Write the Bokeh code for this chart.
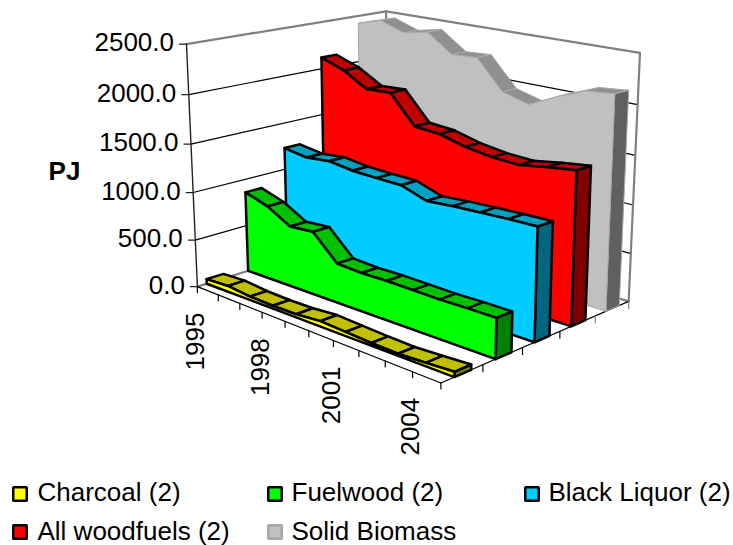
import numpy as np
from bokeh.plotting import figure
from bokeh.embed import file_html
from bokeh.resources import INLINE
from bokeh.core.properties import value
from bokeh.models import Range1d

# ---- data (PJ) ----
years = list(range(1995, 2006))
charcoal = [50, 62, 37, 30, 33, 55, 40, 27, 20, 33, 50]
fuelwood = [860, 780, 640, 660, 410, 395, 400, 395, 390, 395, 395]
black_liquor = [1230, 1190, 1215, 1180, 1170, 1165, 1075, 1095, 1105, 1115, 1120]
all_woodfuels = [2120, 2030, 1880, 1895, 1600, 1580, 1510, 1470, 1455, 1500, 1535]
solid_biomass = [2420, 2490, 2400, 2450, 2260, 2275, 1975, 1900, 2030, 2140, 2165]
value_ticks = [0.0, 500.0, 1000.0, 1500.0, 2000.0, 2500.0]
year_labels = [1995, 1998, 2001, 2004]
value_max = 2500.0
axis_title = "PJ"

# ---- camera calibration: (u along years, v in depth, w up) -> picture pixel ----
calibration = [
    (0, 0, 0, 197, 287), (0, 0, 1, 186, 44), (1, 0, 0, 440, 381),
    (1, 1, 0, 627, 300), (1, 1, 1, 640, 52), (0, 1, 1, 385, 11), (0, 1, 0, 388, 226),
    (.1, 0, 0, 217.7, 295.3), (.2, 0, 0, 239.3, 303.7), (.3, 0, 0, 261, 312),
    (.4, 0, 0, 283.3, 320.7), (.5, 0, 0, 307.3, 329.7), (.6, 0, 0, 333.7, 340),
    (.7, 0, 0, 358.3, 349.3), (.8, 0, 0, 385, 359.7), (.9, 0, 0, 413.7, 370.7),
    (0, 0, .2, 195, 239), (0, 0, .4, 192.8, 191), (0, 0, .6, 190.6, 143), (0, 0, .8, 188.3, 95),
    (1, .2, 0, 483.3, 365), (1, .4, 0, 522.3, 348), (1, .6, 0, 558.3, 331.7), (1, .8, 0, 595, 316.7),
]
A, b = [], []
for X, Y, Z, px, py in calibration:
    A.append([X, Y, Z, 1, 0, 0, 0, 0, -px * X, -px * Y, -px * Z]); b.append(px)
    A.append([0, 0, 0, 0, X, Y, Z, 1, -py * X, -py * Y, -py * Z]); b.append(py)
cam = np.append(np.linalg.lstsq(np.array(A, float), np.array(b, float), rcond=None)[0], 1.0).reshape(3, 4)


def proj(u, v, val):
    q = cam @ np.array([u, v, val / value_max, 1.0])
    return q[0] / q[2], q[1] / q[2]


W, H = 733, 545
p = figure(width=W, height=H, output_backend="svg", toolbar_location=None,
           x_range=Range1d(0, W), y_range=Range1d(H, 0), min_border=0,
           margin=(0, 0, 0, 0))
p.axis.visible = False
p.grid.visible = False
p.outline_line_color = None
p.background_fill_color = "white"
p.border_fill_color = "white"


def seg(a, b, color, width):
    p.line([a[0], b[0]], [a[1], b[1]], line_color=color, line_width=width, line_cap="round")


FRAME = "#808080"
# walls and gridlines
for t in value_ticks[1:-1]:
    seg(proj(0, 0, t), proj(0, 1, t), "black", 1.2)
    seg(proj(0, 1, t), proj(1, 1, t), "black", 1.2)
seg(proj(0, 0, 0), proj(0, 1, 0), FRAME, 2.2)
seg(proj(0, 1, 0), proj(1, 1, 0), FRAME, 2.2)
seg(proj(0, 1, 0), proj(0, 1, value_max), FRAME, 2.2)
seg(proj(0, 0, value_max), proj(0, 1, value_max), FRAME, 2.2)
seg(proj(0, 1, value_max), proj(1, 1, value_max), FRAME, 2.2)
seg(proj(1, 1, value_max), proj(1, 1, 0), FRAME, 2.2)

# axes
seg(proj(0, 0, 0), proj(0, 0, value_max), "#222222", 1.4)
seg(proj(0, 0, 0), proj(1, 0, 0), "black", 1.2)
seg(proj(1, 0, 0), proj(1, 1, 0), "black", 1.2)
label_font = value("Liberation Sans")
for t in value_ticks:
    x, y = proj(0, 0, t)
    seg((x - 7, y), (x, y), "#222222", 1.2)
    p.text([x - 12.5], [y - 2], text=[f"{t:.1f}"], text_font=label_font, text_font_size="26px",
           text_align="right", text_baseline="middle", text_color="black")
n = len(years)
for i, yr in enumerate(years):
    x, y = proj(i / (n - 1), 0, 0)
    seg((x, y), (x, y + 6), "black", 1.2)
    if yr in year_labels:
        p.text([x - 2.5], [y + 26], text=[str(yr)], angle=[np.pi / 2], text_font=label_font,
               text_font_size="26px", text_align="right", text_baseline="middle", text_color="black")
for k in range(1, 6):
    x, y = proj(1, k / 5, 0)
    seg((x, y), (x, y + 7), "#808080" if k > 3 else "black", 1.2)
p.text([64], [170], text=[axis_title], text_font=label_font, text_font_size="26px", text_font_style="bold",
       text_align="center", text_baseline="middle", text_color="black")

# series, back to front
series = [
    (4, solid_biomass, "#c0c0c0", "#909090", "#606060", "#a8a8a8", 1.0),
    (3, all_woodfuels, "#ff0000", "#c00000", "#800000", "black", 2.5),
    (2, black_liquor, "#00ccff", "#00a0c0", "#006680", "black", 2.5),
    (1, fuelwood, "#00ff00", "#00c000", "#008000", "black", 2.5),
    (0, charcoal, "#ffff00", "#c0c000", "#808000", "black", 2.5),
]
V0, DV = 0.063, 0.2
DEPTH = 0.08
SKEW = 0.019  # the drawn series run very slightly off the floor edge


def sp(u, v, val):
    return proj(u, v - SKEW * (1 - u), val)


for slot, vals, front, top, side, edge, lw in series:
    v0, v1 = V0 + DV * slot, V0 + DV * slot + DEPTH
    us = [i / (n - 1) for i in range(n)]
    # right-hand end
    quad = [sp(1, v0, 0), sp(1, v1, 0), sp(1, v1, vals[-1]), sp(1, v0, vals[-1])]
    p.patch([q[0] for q in quad], [q[1] for q in quad], fill_color=side, line_color=edge, line_width=lw, line_join="round")
    # top strip
    for i in range(n - 1):
        quad = [sp(us[i], v0, vals[i]), sp(us[i + 1], v0, vals[i + 1]),
                sp(us[i + 1], v1, vals[i + 1]), sp(us[i], v1, vals[i])]
        p.patch([q[0] for q in quad], [q[1] for q in quad], fill_color=top, line_color=edge, line_width=lw, line_join="round")
    # front face
    pts = [sp(0, v0, 0)] + [sp(u, v0, w) for u, w in zip(us, vals)] + [sp(1, v0, 0)]
    p.patch([q[0] for q in pts], [q[1] for q in pts], fill_color=front, line_color=edge, line_width=lw, line_join="round")

# legend
legend_names = ["Charcoal (2)", "Fuelwood (2)", "Black Liquor (2)", "All woodfuels (2)", "Solid Biomass"]
legend_fill = ["#ffff00", "#00ff00", "#00ccff", "#ff0000", "#c0c0c0"]
legend_edge = ["black", "black", "black", "black", "#a8a8a8"]
legend_swatch_x = [19.5, 274.5, 531.5, 19.5, 274.5]
legend_text_x = [37, 291, 548, 37, 291]
legend_row = [0, 0, 0, 1, 1]
row_center = [493.5, 531.5]
row_text = [491.5, 530]
for i, name in enumerate(legend_names):
    p.rect([legend_swatch_x[i]], [row_center[legend_row[i]]], width=13.5, height=13.5,
           fill_color=legend_fill[i], line_color=legend_edge[i], line_width=2.5)
    p.text([legend_text_x[i]], [row_text[legend_row[i]]], text=[name], text_font=label_font,
           text_font_size="26px", text_align="left", text_baseline="middle", text_color="black")

open("out.html", "w").write(file_html(p, INLINE))
